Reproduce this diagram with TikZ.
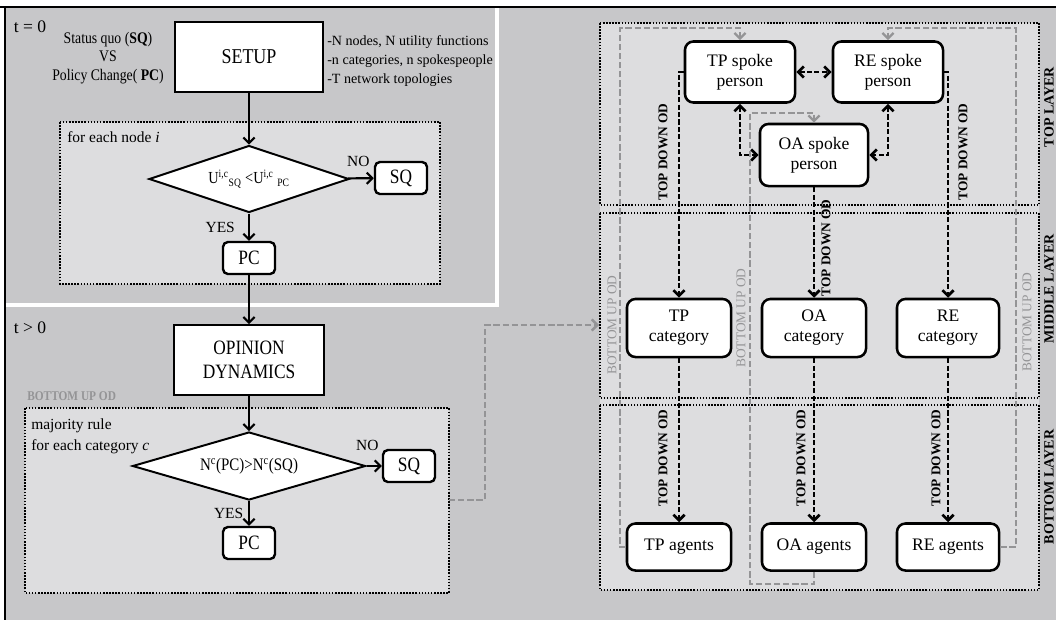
\documentclass[tikz,border=0pt]{standalone}
\usepackage{fontspec}
\setmainfont{Liberation Serif}
\newfontfamily\narrowserif[FakeStretch=0.85]{Liberation Serif}
\usepackage{tikz}
\usetikzlibrary{shapes.geometric,arrows.meta}

\definecolor{bggray}{RGB}{199,199,201}
\definecolor{panelgray}{RGB}{221,221,223}
\definecolor{upgray}{RGB}{148,148,150}

\begin{document}
\begin{tikzpicture}[x=0.025cm, y=-0.025cm, >={Straight Barb[length=4pt, width=8pt]},
        stepbox/.style={draw=black, line width=1.4pt, fill=white, inner sep=2pt, align=center, font=\narrowserif\fontsize{14.5pt}{17.5pt}\selectfont},
        decision/.style={diamond, aspect=3.2, draw=black, line width=1.4pt, fill=white, inner sep=0pt, font=\narrowserif\fontsize{12pt}{14pt}\selectfont},
        outcome/.style={draw=black, line width=1.7pt, rounded corners=3.5pt, fill=white, inner sep=0pt, minimum width=1.3cm, minimum height=0.8cm, font=\narrowserif\fontsize{14.5pt}{17pt}\selectfont},
        actor/.style={draw=black, line width=1.8pt, rounded corners=6pt, fill=white, inner sep=0pt, align=center, font=\fontsize{12.5pt}{14.2pt}\selectfont},
        flow/.style={->, line width=1.5pt},
        topdown/.style={->, line width=1.9pt, dash pattern=on 3.6pt off 1.7pt},
        bottomup/.style={->, draw=upgray, line width=1.7pt, dash pattern=on 4.5pt off 2pt},
        groupbox/.style={draw=black, line width=1.2pt, dash pattern=on 1.1pt off 1.1pt},
        odlabel/.style={rotate=90, inner sep=0pt, font=\bfseries\fontsize{9.5pt}{11pt}\selectfont},
        uplabel/.style={rotate=90, inner sep=0pt, text=upgray, font=\fontsize{9.5pt}{11pt}\selectfont},
        layerlabel/.style={rotate=90, inner sep=0pt, font=\bfseries\fontsize{10pt}{12pt}\selectfont},
        note/.style={inner sep=0pt, font=\fontsize{11pt}{13pt}\selectfont}
    ]
        \useasboundingbox (0,0) rectangle (1056,620);
        \fill[bggray] (5,7) rectangle (1056,620);
        \draw[white, line width=3.5pt] (5,305) -- (497,305) -- (497,8);
        \draw[line width=1.6pt] (0,7) -- (1056,7);
        \draw[line width=0.8pt] (5,7) -- (5,620);

        \draw[groupbox, fill=panelgray] (60,122) rectangle (440,284);
        \draw[groupbox, fill=panelgray] (25,408) rectangle (449,593);
        \fill[panelgray] (600,23) rectangle (1039,590);
        \draw[groupbox] (600,23) rectangle (1039,205);
        \draw[groupbox] (600,213) rectangle (1039,398);
        \draw[groupbox] (600,405) rectangle (1039,590);

        \node[inner sep=0pt, font=\fontsize{12.5pt}{14pt}\selectfont] (tzero) at (30,27) {t = 0};
        \node[inner sep=0pt, font=\fontsize{12.5pt}{14pt}\selectfont] (tlater) at (30,328) {t > 0};
        \node[inner sep=0pt, align=center, font=\narrowserif\fontsize{11.5pt}{13.3pt}\selectfont] (sqvspc) at (108,58) {Status quo (\textbf{SQ})\\VS\\Policy Change( \textbf{PC})};
        \node[inner sep=0pt, anchor=west, align=left, font=\fontsize{10pt}{13.5pt}\selectfont] (setupnotes) at (327,61) {-N nodes, N utility functions\\-n categories, n spokespeople\\-T network topologies};
        \node[note, anchor=west] (looplabel) at (67,137) {for each node \textit{i}};
        \node[note, anchor=west, align=left, font=\fontsize{11pt}{15pt}\selectfont] (majlabel) at (31,436) {majority rule\\for each category \textit{c}};
        \node[inner sep=0pt, anchor=west, text=upgray, font=\narrowserif\bfseries\fontsize{9.5pt}{10pt}\selectfont] (bulabel) at (27,396) {BOTTOM UP OD};

        \node[stepbox, minimum width=3.7cm, minimum height=1.75cm, font=\narrowserif\fontsize{15pt}{18pt}\selectfont] (setup) at (249,57) {SETUP};
        \node[decision, minimum width=5cm, minimum height=1.675cm] (util) at (249,179) {U\textsuperscript{i,c}\textsubscript{SQ} <U\textsuperscript{i,c} \textsubscript{PC}};
        \node[outcome] (sqa) at (401,178) {SQ};
        \node[outcome] (pca) at (249,258) {PC};
        \node[stepbox, minimum width=3.75cm, minimum height=1.75cm] (opinion) at (249,360) {OPINION\\DYNAMICS};
        \node[decision, minimum width=5.825cm, minimum height=1.7cm, font=\narrowserif\fontsize{12.5pt}{14pt}\selectfont] (majority) at (249,466) {N\textsuperscript{c}(PC)>N\textsuperscript{c}(SQ)};
        \node[outcome] (sqb) at (409,466) {SQ};
        \node[outcome] (pcb) at (249,543) {PC};

        \node[actor, minimum width=2.75cm, minimum height=1.525cm] (tpspoke) at (740,72) {TP spoke\\person};
        \node[actor, minimum width=2.75cm, minimum height=1.525cm] (respoke) at (888,72) {RE spoke\\person};
        \node[actor, minimum width=2.7cm, minimum height=1.55cm] (oaspoke) at (814,155) {OA spoke\\person};
        \node[actor, minimum width=2.6cm, minimum height=1.45cm] (tpcat) at (679,328) {TP\\category};
        \node[actor, minimum width=2.6cm, minimum height=1.45cm] (oacat) at (814,328) {OA\\category};
        \node[actor, minimum width=2.55cm, minimum height=1.45cm] (recat) at (948,328) {RE\\category};
        \node[actor, minimum width=2.6cm, minimum height=1.175cm] (tpagents) at (679,547) {TP agents};
        \node[actor, minimum width=2.6cm, minimum height=1.175cm] (oaagents) at (814,547) {OA agents};
        \node[actor, minimum width=2.55cm, minimum height=1.175cm] (reagents) at (948,547) {RE agents};

        \node[odlabel] (tdtp) at (663,152) {TOP DOWN OD};
        \node[odlabel] (tdre) at (963,152) {TOP DOWN OD};
        \node[odlabel] (tdoa) at (826,248) {TOP DOWN OD};
        \node[odlabel] (tdtpb) at (663,458) {TOP DOWN OD};
        \node[odlabel] (tdoab) at (801,458) {TOP DOWN OD};
        \node[odlabel] (tdreb) at (936,458) {TOP DOWN OD};
        \node[uplabel] (butp) at (612,325) {BOTTOM UP OD};
        \node[uplabel] (buoa) at (741,318) {BOTTOM UP OD};
        \node[uplabel] (bure) at (1027,322) {BOTTOM UP OD};
        \node[layerlabel] (toplayer) at (1049,107) {TOP LAYER};
        \node[layerlabel] (midlayer) at (1049,289) {MIDDLE LAYER};
        \node[layerlabel] (botlayer) at (1049,487) {BOTTOM LAYER};

        \coordinate (odexit) at (449,500);
        \coordinate (midentry) at (599,325);

        \path [flow](setup) edge (util);
        \path [flow](util) edge node[above=4pt, pos=0.4, font=\fontsize{11pt}{13pt}\selectfont] {NO} (sqa);
        \path [flow](util) edge node[left=6pt, font=\fontsize{11pt}{13pt}\selectfont] {YES} (pca);
        \path [flow](pca) edge (opinion);
        \path [flow](opinion) edge (majority);
        \path [flow](majority) edge node[above=7pt, pos=0.05, font=\fontsize{11pt}{13pt}\selectfont] {NO} (sqb);
        \path [flow](majority) edge node[left, font=\fontsize{11pt}{13pt}\selectfont] {YES} (pcb);

        \draw[topdown] (tpspoke.west) -| (tpcat.north);
        \draw[topdown] (respoke.east) -| (recat.north);
        \path [topdown](oaspoke) edge (oacat);
        \path [topdown](tpcat) edge (tpagents);
        \path [topdown](oacat) edge (oaagents);
        \path [topdown](recat) edge (reagents);
        \path [topdown, <->](tpspoke) edge (respoke);
        \draw[topdown, <->] (tpspoke.south) |- (oaspoke.west);
        \draw[topdown, <->] (respoke.south) |- (oaspoke.east);

        \draw[bottomup] (tpagents.west) -| (620,28) -| (tpspoke.north);
        \draw[bottomup] (oaagents.south) -- ++(0,12) -| (750,113) -| (oaspoke.north);
        \draw[bottomup] (reagents.east) -| (1016,28) -| (respoke.north);
        \draw[bottomup] (odexit) -- ++(36,0) |- (midentry);
\end{tikzpicture}
\end{document}
